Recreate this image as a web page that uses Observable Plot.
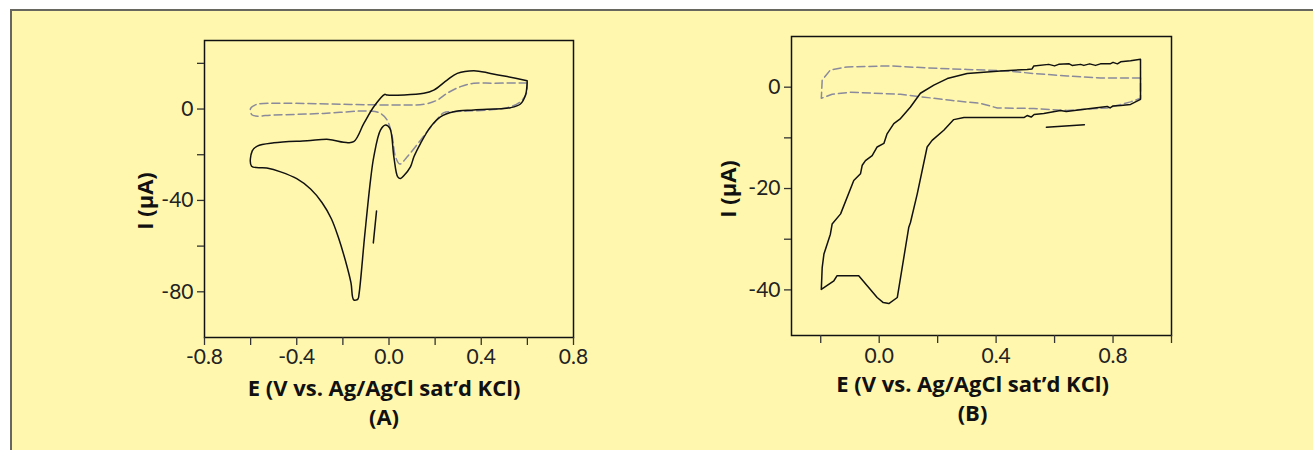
<!DOCTYPE html>
<html><head><meta charset="utf-8">
<script src="https://cdn.jsdelivr.net/npm/d3@7"></script>
<script src="https://cdn.jsdelivr.net/npm/@observablehq/plot@0.6"></script>
<style>
body{margin:0;background:#fff;width:1313px;height:450px;overflow:hidden;position:relative}
#panel{position:absolute;left:10px;top:9px;width:1400px;height:500px;background:#FFF7AE;border-left:2px solid #67675f;border-top:2px solid #67675f}
.plot{position:absolute}
</style></head><body>
<div id="panel"></div>
<div id="a" class="plot" style="left:100px;top:20px"></div>
<div id="b" class="plot" style="left:680px;top:16px"></div>
<script>
// Panel A
const aSolidE = [0.599,0.513,0.44,0.368,0.296,0.252,0.194,0.151,-0.008,-0.019,-0.066,-0.109,-0.153,-0.196,-0.261,-0.355,-0.499,-0.571,-0.593,-0.596,-0.53,-0.47,-0.40,-0.34,-0.29,-0.25,-0.22,-0.19,-0.165,-0.153,-0.135,-0.130,-0.105,-0.080,-0.066,-0.037,-0.015,0.004,0.021,0.038,0.050,0.064,0.093,0.108,0.137,0.180,0.223,0.281,0.368,0.527,0.570,0.592,0.599,0.599];
const aSolidI = [12.4,14.2,15.6,16.8,15.6,12.7,8.3,6.9,6.1,6.4,1.0,-6.3,-14.3,-14.5,-13.3,-13.9,-14.8,-16.2,-18.3,-25.0,-25.8,-27.5,-30.5,-35,-41,-48,-56,-66,-76,-83.5,-83.2,-81,-55,-31,-20.9,-9.2,-7.0,-8.5,-20.9,-29.7,-30.4,-29.2,-25.3,-20.9,-15.0,-7.8,-3.4,-1.2,-0.4,0.6,2.2,6.1,11.5,12.4];
const aDashE = [0.599,0.455,0.368,0.310,0.252,0.209,0.151,0.007,-0.210,-0.456,-0.571,-0.600,-0.593,-0.499,-0.283,-0.080,-0.037,-0.008,0.014,0.028,0.047,0.079,0.137,0.194,0.238,0.281,0.513,0.570,0.596,0.599];
const aDashI = [11.5,11.3,11.3,9.8,6.9,3.9,2.1,1.8,2.1,2.5,2.1,0.3,-2.6,-2.6,-1.9,-0.9,-1.9,-4.8,-12.1,-20.9,-24.1,-20.9,-13.6,-6.3,-1.6,-1.2,0.6,3.2,6.9,11.5];
const aSegE = [-0.054,-0.068];
const aSegI = [-44.6,-58.6];
const aXLabeled = [-0.8,-0.4,0,0.4,0.8];
const aXMinor = [-0.6,-0.2,0.2,0.6];
const aYLabeled = [0,-40,-80];
const aYMinor = [20,-20,-60];

// Panel B
const bSolidE = [0.894,0.860,0.826,0.815,0.80,0.79,0.757,0.74,0.72,0.70,0.689,0.66,0.65,0.614,0.60,0.58,0.529,0.523,0.506,0.415,0.301,0.233,0.187,0.141,0.107,0.073,0.050,0.027,0.016,-0.007,-0.024,-0.047,-0.058,-0.064,-0.087,-0.132,-0.161,-0.167,-0.189,-0.195,-0.198,-0.155,-0.144,-0.070,-0.041,-0.007,0.014,0.033,0.062,0.101,0.107,0.130,0.164,0.181,0.221,0.255,0.290,0.495,0.506,0.52,0.53,0.563,0.620,0.64,0.723,0.780,0.79,0.80,0.826,0.860,0.894,0.894];
const bSolidI = [5.5,5.2,5.0,4.6,4.9,4.6,4.6,4.3,4.6,4.3,4.5,4.3,4.6,4.5,4.2,4.5,4.2,3.6,3.5,3.2,2.7,1.7,0.4,-1.2,-3.9,-6.2,-7.2,-9.2,-11.1,-11.8,-13.5,-14.5,-15.4,-17.1,-18.4,-25.0,-27.0,-29.0,-32.9,-35.6,-39.9,-38.2,-37.2,-37.2,-39.2,-41.5,-42.5,-42.7,-41.5,-27.7,-26.7,-21.1,-11.8,-10.5,-8.5,-6.4,-6.0,-6.0,-5.6,-5.9,-5.4,-5.2,-4.6,-4.8,-4.2,-3.8,-4.1,-3.7,-3.6,-3.4,-2.4,5.5];
const bDashE = [0.894,0.757,0.643,0.529,0.438,0.301,0.164,0.039,-0.110,-0.167,-0.195,-0.198,-0.161,-0.098,0.073,0.244,0.347,0.404,0.529,0.643,0.780,0.860,0.894,0.894];
const bDashI = [1.8,1.8,2.2,2.7,3.2,3.5,3.8,4.2,4.0,3.4,1.4,-2.2,-1.4,-1.0,-1.4,-2.6,-3.2,-4.1,-4.2,-4.6,-4.1,-2.9,-2.2,1.8];
const bSegE = [0.572,0.702];
const bSegI = [-7.9,-7.4];
const bXLabeled = [0,0.4,0.8];
const bXMinor = [-0.2,0.2,0.6,1.0];
const bYLabeled = [0,-20,-40];
const bYMinor = [-10,-30];

const xTitle = "E (V vs. Ag/AgCl sat\u2019d KCl)";
const yTitle = "I (\u03bcA)";

const pts = (E, I) => E.map((e, i) => ({E: e, I: I[i]}));
const TICKFONT = "Lato, 'Open Sans', sans-serif";
const TITLEFONT = "'Open Sans', Lato, sans-serif";

function panel({width, height, ml, mr, mt, mb, xd, yd, solid, dash, seg, xl, xm, yl, ym, tag, curve, titleDx, titleDy, ydx, ydy, labDy}) {
  return Plot.plot({
    width, height, marginLeft: ml, marginRight: mr, marginTop: mt, marginBottom: mb,
    style: {background: "transparent", fontFamily: TICKFONT, fontSize: "21px", color: "#222"},
    x: {domain: xd},
    y: {domain: yd},
    marks: [
      Plot.frame({stroke: "#111", strokeWidth: 1.5}),
      Plot.axisX({ticks: xl.concat(xm), tickSize: 8, tickFormat: () => "", label: null, stroke: "#333", strokeWidth: 1.3}),
      Plot.axisX({ticks: xl, tickSize: 0, tickPadding: 8, dy: labDy, fontSize: 21, tickFormat: d => d.toFixed(1), label: null}),
      Plot.axisY({ticks: yl, tickSize: 7, tickPadding: 4, fontSize: 21, tickFormat: d => String(d), label: null, stroke: "#333", strokeWidth: 1.3}),
      Plot.axisY({ticks: ym, tickSize: 7, tickFormat: () => "", label: null, stroke: "#333", strokeWidth: 1.3}),
      Plot.line(pts(dash[0], dash[1]), {x: "E", y: "I", stroke: "#8a8a9c", strokeWidth: 1.5, strokeDasharray: "8,4", curve}),
      Plot.line(pts(solid[0], solid[1]), {x: "E", y: "I", stroke: "#111", strokeWidth: 1.5, curve}),
      Plot.line(pts(seg[0], seg[1]), {x: "E", y: "I", stroke: "#111", strokeWidth: 1.5}),
      Plot.text([xTitle], {frameAnchor: "bottom", dy: titleDy, dx: titleDx, fontSize: 22, fontWeight: "bold", fontFamily: TITLEFONT, fill: "#111"}),
      Plot.text([tag], {frameAnchor: "bottom", dy: titleDy + 29, dx: titleDx, fontSize: 22, fontWeight: "bold", fontFamily: TITLEFONT, fill: "#111"}),
      Plot.text([yTitle], {frameAnchor: "left", textAnchor: "middle", dx: ydx, dy: ydy, rotate: -90, fontSize: 22, fontWeight: "bold", fontFamily: TITLEFONT, fill: "#111"})
    ]
  });
}

document.getElementById("a").append(panel({
  width: 500, height: 420, ml: 104, mr: 27, mt: 20, mb: 103,
  xd: [-0.8, 0.8], yd: [-100, 30],
  solid: [aSolidE, aSolidI], dash: [aDashE, aDashI], seg: [aSegE, aSegI],
  xl: aXLabeled, xm: aXMinor, yl: aYLabeled, ym: aYMinor, tag: "(A)", curve: "catmull-rom", titleDx: -5, titleDy: 58, ydx: -59, ydy: 12, labDy: 4
}));
document.getElementById("b").append(panel({
  width: 520, height: 424, ml: 111, mr: 29, mt: 20, mb: 105,
  xd: [-0.3, 1.0], yd: [-49, 10],
  solid: [bSolidE, bSolidI], dash: [bDashE, bDashI], seg: [bSegE, bSegI],
  xl: bXLabeled, xm: bXMinor, yl: bYLabeled, ym: bYMinor, tag: "(B)", curve: "linear", titleDx: -9, titleDy: 56, ydx: -63, ydy: 3, labDy: 5
}));
</script></body></html>
